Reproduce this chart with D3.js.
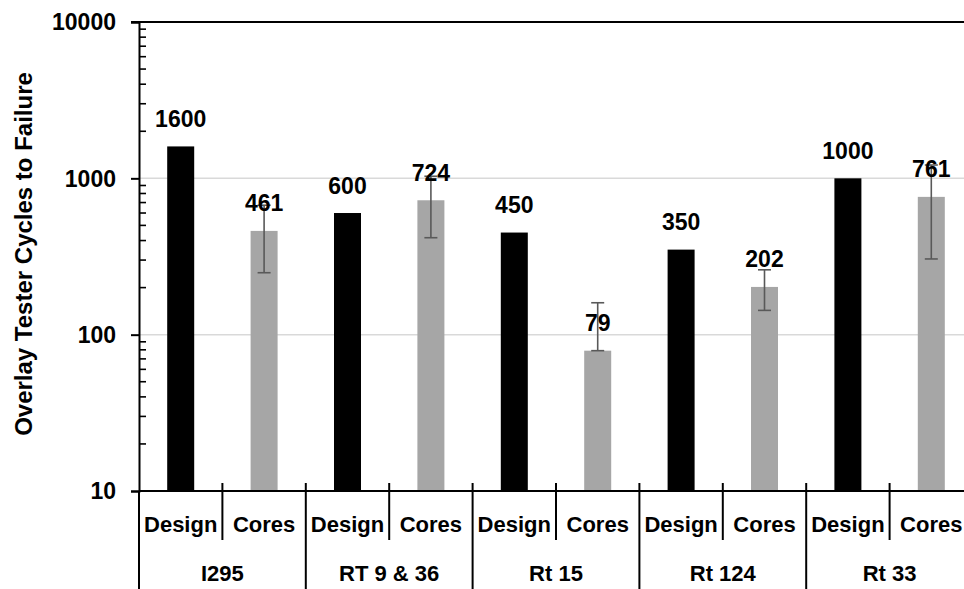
<!DOCTYPE html>
<html>
<head>
<meta charset="utf-8">
<script src="https://cdn.jsdelivr.net/npm/d3@7"></script>
<style>
  html, body { margin: 0; padding: 0; background: #fff; }
  svg { display: block; }
  text { font-family: "Liberation Sans", Arial, sans-serif; font-weight: bold; fill: #000; }
</style>
</head>
<body>
<svg id="chart" width="964" height="589"></svg>
<script>
const groups = ["I295", "RT 9 & 36", "Rt 15", "Rt 124", "Rt 33"];
const items = ["Design", "Cores"];
const designValues = [1600, 600, 450, 350, 1000];
const coreValues = [461, 724, 79, 202, 761];
const coreErrLow = [249, 417, 79, 143, 305];
const coreErrHigh = [673, 1031, 160, 260, 1217];
const yTicks = [10, 100, 1000, 10000];
const yTitle = "Overlay Tester Cycles to Failure";
const colors = { Design: "#000000", Cores: "#a6a6a6" };

(function () {
const rows = [];
groups.forEach((g, i) => {
  rows.push({ key: g + "|Design", group: g, item: "Design", value: designValues[i] });
  rows.push({ key: g + "|Cores", group: g, item: "Cores", value: coreValues[i], lo: coreErrLow[i], hi: coreErrHigh[i] });
});

const svg = d3.select("#chart");
const pL = 139, pR = 973, pT = 22, pB = 491;

const x = d3.scaleBand().domain(rows.map(d => d.key)).range([pL, pR]).padding(0);
const y = d3.scaleLog().domain([10, 10000]).range([pB, pT]);
const barW = 27;

// gridlines
svg.append("g").selectAll("line").data([100, 1000]).join("line")
  .attr("x1", pL).attr("x2", pR)
  .attr("y1", d => y(d)).attr("y2", d => y(d))
  .attr("stroke", "#d9d9d9").attr("stroke-width", 1.5);

// top line
svg.append("line").attr("x1", pL - 8).attr("x2", pR)
  .attr("y1", y(10000)).attr("y2", y(10000))
  .attr("stroke", "#000").attr("stroke-width", 2);

// bars
svg.append("g").selectAll("rect").data(rows).join("rect")
  .attr("x", d => x(d.key) + x.bandwidth() / 2 - barW / 2)
  .attr("width", barW)
  .attr("y", d => y(d.value))
  .attr("height", d => y(10) - y(d.value))
  .attr("fill", d => colors[d.item]);

// error bars
const eb = svg.append("g").attr("stroke", "#595959").attr("stroke-width", 1.6);
rows.filter(d => d.item === "Cores").forEach(d => {
  const cx = x(d.key) + x.bandwidth() / 2;
  eb.append("line").attr("x1", cx).attr("x2", cx).attr("y1", y(d.lo)).attr("y2", y(d.hi));
  [d.lo, d.hi].forEach(v => {
    eb.append("line").attr("x1", cx - 6.5).attr("x2", cx + 6.5).attr("y1", y(v)).attr("y2", y(v));
  });
});

// data labels
svg.append("g").selectAll("text").data(rows).join("text")
  .attr("x", d => x(d.key) + x.bandwidth() / 2)
  .attr("y", d => y(d.value) - 19.5)
  .attr("text-anchor", "middle")
  .style("font-size", "23px")
  .text(d => d.value);

// y axis
const yAxis = d3.axisLeft(y).tickValues(yTicks).tickFormat(d3.format("d")).tickSize(8).tickPadding(15);
const ya = svg.append("g").attr("transform", `translate(${pL},0)`).call(yAxis);
ya.select(".domain").attr("stroke", "#000").attr("stroke-width", 2);
ya.selectAll(".tick line").attr("stroke", "#000").attr("stroke-width", 2);
ya.selectAll(".tick text").style("font-size", "23px").style("font-family", '"Liberation Sans", Arial, sans-serif').style("font-weight", "bold").attr("fill", "#000").attr("dy", "0.34em");

// minor ticks (inside)
const minor = [];
[10, 100, 1000].forEach(b => { for (let k = 2; k <= 9; k++) minor.push(b * k); });
svg.append("g").selectAll("line").data(minor).join("line")
  .attr("x1", pL).attr("x2", pL + 7)
  .attr("y1", d => y(d)).attr("y2", d => y(d))
  .attr("stroke", "#000").attr("stroke-width", 1.6);

// x axis line
svg.append("line").attr("x1", pL).attr("x2", pR)
  .attr("y1", pB).attr("y2", pB)
  .attr("stroke", "#000").attr("stroke-width", 2);

// item separators
const sep = svg.append("g").attr("stroke", "#000").attr("stroke-width", 2);
rows.forEach((d, i) => {
  const xs = x(d.key);
  if (i === 0) {
    sep.append("line").attr("x1", xs).attr("x2", xs).attr("y1", pB).attr("y2", 589);
  } else if (d.item === "Cores") {
    sep.append("line").attr("x1", xs).attr("x2", xs).attr("y1", pB - 8).attr("y2", 540);
  } else {
    sep.append("line").attr("x1", xs).attr("x2", xs).attr("y1", pB - 8).attr("y2", 589);
  }
});

// item labels
svg.append("g").selectAll("text").data(rows).join("text")
  .attr("x", d => x(d.key) + x.bandwidth() / 2)
  .attr("y", 532)
  .attr("text-anchor", "middle")
  .style("font-size", "22px")
  .text(d => d.item);

// group labels
svg.append("g").selectAll("text").data(groups).join("text")
  .attr("x", g => x(g + "|Cores"))
  .attr("y", 581)
  .attr("text-anchor", "middle")
  .style("font-size", "22px")
  .text(g => g);

// y title
svg.append("text")
  .attr("transform", `translate(32,${(68 + 440) / 2}) rotate(-90)`)
  .attr("text-anchor", "middle")
  .style("font-size", "24px")
  .text(yTitle);
})();
</script>
</body>
</html>
